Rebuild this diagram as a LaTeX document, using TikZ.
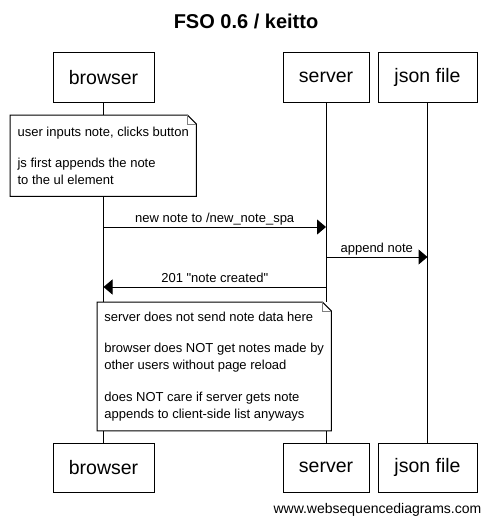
\documentclass[tikz,border=0pt]{standalone}
\usepackage{fontspec}
\setmainfont{Liberation Sans}[Ligatures=TeXOff]
\usetikzlibrary{arrows.meta,positioning}

\tikzset{
    actor/.style={draw, line width=1pt, minimum height=49pt, inner sep=0pt,
        font=\fontsize{19.5}{23}\selectfont},
    note/.style={fill=white, anchor=north west, align=left, inner xsep=6pt,
        inner ysep=0pt, font=\fontsize{13}{17}\selectfont},
    msg/.style={-{Triangle[length=9pt,width=15pt]}, line width=1pt},
    msglabel/.style={above, inner sep=1pt, text height=9.5pt, text depth=2.7pt,
        font=\fontsize{13}{16}\selectfont}
}

\begin{document}
\begin{tikzpicture}[x=1pt,y=-1pt]
    \useasboundingbox[fill=white] (0,0) rectangle (491,527);

    % Title
    \node[font=\fontsize{20}{24}\selectfont\bfseries] (title) at (246,21.5) {FSO 0.6 / keitto};

    % Participants, top and bottom
    \node[actor, minimum width=101pt] (bt) at (103.5,77.5) {browser};
    \node[actor, minimum width=86pt] (st) at (326,77.5) {server};
    \node[actor, minimum width=99pt] (jt) at (427.5,77.5) {json file};
    \node[actor, minimum width=101pt] (bb) at (103.5,467.8) {browser};
    \node[actor, minimum width=86pt] (sb) at (326,467.8) {server};
    \node[actor, minimum width=99pt] (jb) at (427.5,467.8) {json file};

    % Lifelines
    \draw[line width=1pt] (bt) -- (bb);
    \draw[line width=1pt] (st) -- (sb);
    \draw[line width=1pt] (jt) -- (jb);

    % First note
    \node[note, minimum width=186pt, minimum height=81pt] (n1) at (10,115)
        {user inputs note, clicks button\\[14.5pt]js first appends the note\\to the ul element};
    \draw[line width=1pt] (n1.north west) -- ([xshift=-9pt]n1.north east)
        -- ([yshift=-9pt]n1.north east) -- (n1.south east) -- (n1.south west) -- cycle;
    \draw[gray] ([xshift=-9pt]n1.north east) |- ([yshift=-9pt]n1.north east);

    % Messages
    \coordinate (m1a) at (bt |- 0,227);
    \coordinate (m1b) at (st |- 0,227);
    \coordinate (m2a) at (st |- 0,257);
    \coordinate (m2b) at (jt |- 0,257);
    \coordinate (m3a) at (st |- 0,287);
    \coordinate (m3b) at (bt |- 0,287);
    \draw[msg] (m1a) -- node[msglabel] {new note to /new\_note\_spa} (m1b);
    \draw[msg] (m2a) -- node[msglabel] {append note} (m2b);
    \draw[msg] (m3a) -- node[msglabel] {201 "note created"} (m3b);

    % Second note
    \node[note, minimum width=234pt, minimum height=128.5pt] (n2) at (97,302)
        {server does not send note data here\\[14.5pt]browser does NOT get notes made by\\other users without page reload\\[14.5pt]does NOT care if server gets note\\appends to client-side list anyways};
    \draw[line width=1pt] (n2.north west) -- ([xshift=-9pt]n2.north east)
        -- ([yshift=-9pt]n2.north east) -- (n2.south east) -- (n2.south west) -- cycle;
    \draw[gray] ([xshift=-9pt]n2.north east) |- ([yshift=-9pt]n2.north east);

    % Watermark
    \node[anchor=east, inner sep=0pt, font=\fontsize{14}{17}\selectfont] (wm) at (481.5,510)
        {www.websequencediagrams.com};
\end{tikzpicture}
\end{document}
